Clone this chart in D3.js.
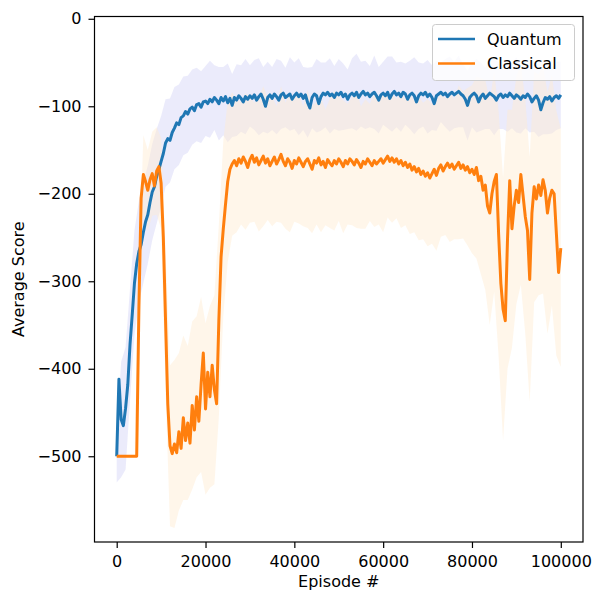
<!DOCTYPE html>
<html>
<head>
<meta charset="utf-8">
<script src="https://cdn.jsdelivr.net/npm/d3@7"></script>
<style>
  body { margin: 0; background: #fff; }
  text { font-family: "DejaVu Sans", sans-serif; }
</style>
</head>
<body>
<div id="chart"></div>
<script>
// mean score every 500 episodes
var quantum = [
  -500, -412, -458, -465, -445, -418, -372, -338, -302, -280,
  -266, -258, -244, -232, -224, -210, -198, -192, -180, -172,
  -163, -154, -142, -137, -139, -130, -125, -119, -121, -113,
  -111, -106, -109, -103, -101, -105, -98, -97, -101, -95,
  -94, -97, -92, -95, -90, -93, -97, -90, -94, -89,
  -96, -91, -99, -90, -93, -88, -91, -95, -89, -92,
  -88, -91, -87, -93, -89, -86, -92, -100, -90, -87,
  -91, -86, -89, -93, -87, -85, -90, -88, -86, -92,
  -88, -85, -89, -86, -91, -87, -96, -102, -90, -86,
  -88, -97, -89, -85, -87, -84, -88, -86, -90, -85,
  -87, -84, -89, -86, -92, -87, -85, -88, -84, -90,
  -86, -83, -87, -85, -89, -86, -84, -88, -93, -87,
  -85, -88, -84, -91, -86, -83, -87, -85, -89, -84,
  -86, -92, -87, -85, -88, -95, -88, -85, -87, -84,
  -89, -86, -90, -97, -88, -86, -84, -87, -85, -89,
  -86, -84, -87, -85, -83, -86, -88, -92, -99, -90,
  -87, -85, -88, -95, -89, -86, -91, -88, -85, -87,
  -89, -93, -88, -86, -90, -87, -89, -85, -88, -91,
  -87, -89, -92, -88, -90, -86, -89, -95, -91, -88,
  -93, -104, -96, -90, -92, -89, -94, -90, -88, -91,
  -87
];
var classical = [
  -500, -500, -500, -500, -500, -500, -500, -500, -500, -500,
  -330, -205, -178, -186, -196, -184, -177, -191, -174, -169,
  -188, -250, -345, -440, -488, -497, -486, -496, -472, -491,
  -456, -482, -462, -485, -442, -470, -432, -460, -418, -382,
  -446, -404, -432, -396, -424, -440, -345, -272, -240, -212,
  -186, -172, -166, -162, -168, -160, -165, -158, -163, -170,
  -161, -156, -164, -159, -167, -162, -157, -165, -160, -168,
  -163, -158, -166, -161, -155, -163, -168, -160, -164, -171,
  -162, -166, -159, -164, -169, -163, -160, -166, -172, -162,
  -165, -159, -167, -163, -170, -161, -165, -168, -162, -166,
  -160, -164, -169, -162, -166, -160, -163, -167, -161, -165,
  -170, -163, -166, -160, -164, -168, -162, -166, -163, -160,
  -165, -161, -157, -163, -159, -164, -160, -166, -162, -168,
  -164, -170, -166, -173, -169, -175, -171, -178, -174, -180,
  -176, -182, -177, -172, -179, -171, -167, -174, -169, -165,
  -170, -166, -172, -168, -164, -171, -167, -173, -169, -176,
  -172, -178, -170, -185, -180, -196, -190, -214, -222, -200,
  -186, -178, -246, -302, -332, -345, -252, -185, -240, -214,
  -196, -210, -178, -202, -226, -242, -298, -222, -192, -206,
  -190, -202, -184, -196, -222, -205, -196, -200, -245, -290,
  -262
];
// spread (std) every 1000 episodes
var quantumStd = [
  30, 66, 70, 64, 60, 58, 58, 56, 55, 54,
  52, 50, 48, 47, 46, 45, 44, 43, 42, 41,
  40, 44, 37, 42, 39, 45, 36, 41, 38, 43,
  35, 40, 44, 37, 41, 36, 43, 39, 34, 42,
  38, 44, 36, 40, 35, 42, 39, 37, 43, 36,
  41, 38, 34, 40, 44, 37, 39, 35, 42, 38,
  36, 41, 43, 37, 40, 35, 39, 44, 38, 36,
  42, 37, 40, 34, 39, 43, 38, 41, 36, 40,
  37, 42, 39, 35, 41, 44, 38, 36, 40, 37,
  43, 39, 35, 41, 38, 42, 36, 40, 37, 39,
  38
];
var classicalStd = [
  0, 0, 0, 0, 0, 40, 45, 46, 48, 50,
  52, 80, 92, 96, 90, 94, 88, 96, 92, 100,
  98, 104, 108, 110, 100, 92, 82, 76, 70, 78,
  72, 68, 76, 80, 70, 74, 66, 78, 72, 80,
  70, 75, 68, 79, 73, 70, 77, 66, 74, 80,
  71, 76, 69, 73, 78, 70, 74, 67, 76, 72,
  79, 70, 74, 68, 77, 72, 80, 75, 82, 78,
  84, 80, 86, 82, 78, 85, 80, 88, 84, 90,
  96, 104, 112, 120, 128, 126, 140, 150, 148, 136,
  130, 126, 134, 140, 132, 126, 130, 138, 132, 140,
  136
];
var meanEpisodes = d3.range(0, 100001, 500);
var stdEpisodes = d3.range(0, 100001, 1000);
var xTicks = [0, 20000, 40000, 60000, 80000, 100000];
var yTicks = [0, -100, -200, -300, -400, -500];
var seriesNames = ["Quantum", "Classical"];
var lineColors = ["#1f77b4", "#ff7f0e"];

var W = 596, H = 593;
var axL = 94.5, axR = 583, axT = 16.5, axB = 542;

var svg = d3.select("#chart")
    .append("svg")
    .attr("width", W)
    .attr("height", H);

var x = d3.scaleLinear().domain([-5000, 105000]).range([axL, axR]);
var y = d3.scaleLinear().domain([-598, 2.6]).range([axB, axT]);

svg.append("clipPath")
    .attr("id", "clip")
    .append("rect")
    .attr("x", axL).attr("y", axT)
    .attr("width", axR - axL).attr("height", axB - axT);

var plot = svg.append("g").attr("clip-path", "url(#clip)");

function band(mean, sd) {
  return d3.area()
      .x(function(d, i) { return x(stdEpisodes[i]); })
      .y0(function(d, i) { return y(mean[i * 2] - sd[i]); })
      .y1(function(d, i) { return y(mean[i * 2] + sd[i]); })(sd);
}
var line = d3.line()
    .x(function(d, i) { return x(meanEpisodes[i]); })
    .y(function(d) { return y(d); });

plot.append("path")
    .attr("d", band(quantum, quantumStd))
    .attr("fill", "#e6e6fa")
    .attr("opacity", 0.8);
plot.append("path")
    .attr("d", band(classical, classicalStd))
    .attr("fill", "#ffecd0")
    .attr("opacity", 0.45);

plot.append("path")
    .attr("d", line(quantum))
    .attr("fill", "none")
    .attr("stroke", lineColors[0])
    .attr("stroke-width", 3)
    .attr("stroke-linejoin", "round");
plot.append("path")
    .attr("d", line(classical))
    .attr("fill", "none")
    .attr("stroke", lineColors[1])
    .attr("stroke-width", 3)
    .attr("stroke-linejoin", "round");

// axes
var xAxis = svg.append("g")
    .attr("transform", "translate(0," + axB + ")")
    .call(d3.axisBottom(x).tickValues(xTicks).tickFormat(d3.format("d")).tickSize(6).tickPadding(8));
var yAxis = svg.append("g")
    .attr("transform", "translate(" + axL + ",0)")
    .call(d3.axisLeft(y).tickValues(yTicks).tickFormat(d3.format("d")).tickSize(6).tickPadding(7));

[xAxis, yAxis].forEach(function(a) {
  a.select(".domain").remove();
  a.selectAll(".tick line").attr("stroke", "#000").attr("stroke-width", 1.2);
  a.selectAll(".tick text")
      .attr("fill", "#000")
      .style("font-size", "16px")
      .style("font-family", "DejaVu Sans");
});

svg.append("rect")
    .attr("x", axL).attr("y", axT)
    .attr("width", axR - axL).attr("height", axB - axT)
    .attr("fill", "none")
    .attr("stroke", "#000")
    .attr("stroke-width", 1.2);

svg.append("text")
    .attr("x", (axL + axR) / 2)
    .attr("y", 587)
    .attr("text-anchor", "middle")
    .style("font-size", "16px")
    .text("Episode #");

svg.append("text")
    .attr("transform", "translate(24," + ((axT + axB) / 2) + ") rotate(-90)")
    .attr("text-anchor", "middle")
    .style("font-size", "16px")
    .text("Average Score");

// legend
var legend = svg.append("g");
legend.append("rect")
    .attr("x", 432.5).attr("y", 24.5)
    .attr("width", 142).attr("height", 56)
    .attr("rx", 3)
    .attr("fill", "#fff")
    .attr("fill-opacity", 0.8)
    .attr("stroke", "#cccccc")
    .attr("stroke-width", 1);
seriesNames.forEach(function(name, i) {
  var ly = 39 + i * 24.5;
  legend.append("line")
      .attr("x1", 438).attr("x2", 475)
      .attr("y1", ly).attr("y2", ly)
      .attr("stroke", lineColors[i])
      .attr("stroke-width", 2.4);
  legend.append("text")
      .attr("x", 487)
      .attr("y", ly + 5.8)
      .style("font-size", "16px")
      .text(name);
});
</script>
</body>
</html>
